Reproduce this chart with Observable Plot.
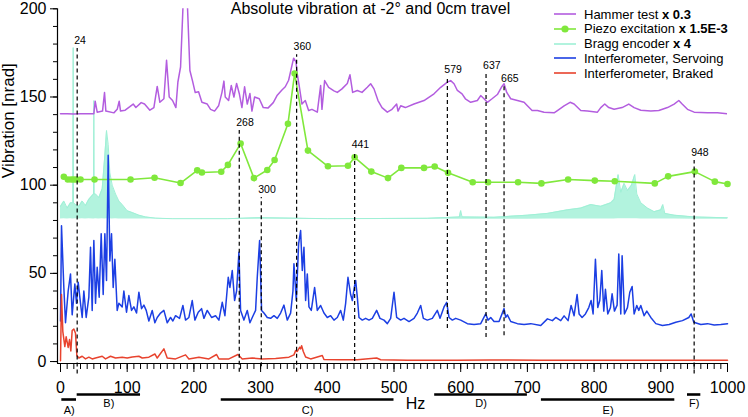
<!DOCTYPE html>
<html><head><meta charset="utf-8">
<script src="https://cdn.jsdelivr.net/npm/d3@7"></script>
<script src="https://cdn.jsdelivr.net/npm/@observablehq/plot@0.6"></script>
<style>
body{margin:0;background:#fff;font-family:"Liberation Sans",Arial,Helvetica,sans-serif;}
#wrap{position:relative;width:748px;height:417px;}
#legend{position:absolute;left:553px;top:6.6px;font-size:13px;color:#000;}
.row{display:flex;align-items:center;height:14.8px;white-space:nowrap;}
.row svg{margin-right:7px;}
</style></head><body>
<div id="wrap"><div id="legend"></div></div>
<script>
// ---------- data ----------
const hammerData = [[0,140.5],[10,140.5],[20,140.3],[30,140.5],[40,140.5],[50,140.5],[52,147.6],[55,141.4],[63,142],[66,152.5],[68,142],[80,141],[85,143],[88,147.6],[90,142],[97,142.5],[104,144.5],[109,146],[113,144],[121,146.8],[126,146],[134,142.5],[140,144],[145,156],[149,147],[155,149],[159,170.8],[163,150],[168,148],[173,144],[176,158.5],[180,167],[183,195],[185,215],[189,215],[191,195],[194,165],[198,159],[202,152.5],[207,153],[212,147],[220,146],[225,143],[231,142],[237,145],[242,152.5],[245,159],[247,150],[252,148],[256,156.5],[260,150],[264,157.7],[268,152],[272,144],[276,155.8],[280,146],[284,152],[287,142],[291,150],[298,149],[304,144],[311,143.7],[319,146.8],[325,151],[332,154],[337,155.8],[342,159.5],[349.5,172],[353,170],[355,163],[358,156],[362,146],[367,148],[372,142.3],[377,143],[385,141.4],[390,156.5],[392,143],[396,159.3],[402,155.5],[410,153.5],[415,152.6],[422,154.6],[430,157.7],[434,162.6],[438,152.6],[445,153.7],[452,152.6],[460,155.5],[465,157.5],[470,154.6],[476,148],[482,144],[490,141.4],[497,143],[504,146],[506,142],[510,145],[517,144],[530,146],[545,148],[560,151.8],[570,155.5],[580,158.4],[585,159.3],[590,157.5],[595,153.7],[602,151.8],[607,149],[615,147],[625,148],[630,150.8],[635,149],[640,147],[647,149],[655,151.4],[661,155.5],[665,157.5],[669,152.6],[675,149],[685,148],[695,147],[700,145],[707,142.3],[715,142.3],[725,141.4],[740,141],[745,142.3],[755,145],[764,147],[770,146],[780,142.3],[790,142],[805,141.4],[810,144],[816,146],[822,144],[830,143],[842,144],[852,146],[860,144],[870,142.5],[885,142],[897,142.3],[910,144],[920,146],[927,148],[932,146],[940,143],[950,141.4],[970,141],[985,141],[1000,140.5]];

const piezoData = [[5,104.8],[11,103.2],[16,103.2],[20,103.2],[24,103.2],[30,103.2],[51,103.2],[105,103.2],[141,104.2],[180,101.2],[205,108.4],[212,107.2],[241,107.6],[251,111.5],[270,123.6],[290,104],[310,108.6],[321,114.3],[341,134.8],[351,163.3],[371,119.6],[401,110.7],[431,111],[441,115.8],[466,107.7],[491,104],[511,109.8],[545,109.8],[561,110.6],[581,107],[618,101.7],[641,101.7],[686,101.7],[721,101],[761,103.2],[801,102.6],[831,102.2],[891,101],[911,105],[951,107.7],[981,102],[1000,100.7]];

// Bragg encoder: dense spectrum given as low / high envelope [freq, low, high]
const braggData = [[0,80.8,88],[5,80.9,91],[10,80.8,87],[15,80.9,90],[18.5,80.8,90],[19,80.8,178],[19.5,80.8,90],[22.5,80.9,89],[27.5,80.8,88],[32.5,80.9,91],[37.5,80.8,88.5],[42.5,80.9,92],[49.5,80.8,95],[50,80.8,148],[50.5,80.8,95],[52.5,80.9,95],[57.5,80.8,93],[62.5,80.9,98],[66.5,80.8,117],[69,80.9,131],[71.5,80.8,123],[74,80.9,107],[77.5,80.8,100],[82.5,80.9,95],[87.5,80.8,91],[92.5,80.8,89],[100,80.8,85.5],[107.5,80.8,84.5],[117.5,80.8,83],[127.5,80.8,82],[142.5,80.8,81.3],[167.5,80.7,81],[250,80.7,81],[300,80.7,81.6],[400,80.7,81],[550,80.7,81.2],[598,80.7,82],[600,80.7,85.6],[602,80.7,82],[650,80.7,81.8],[700,80.7,83],[730,80.8,84],[760,80.8,86],[780,80.8,87],[795,80.8,89],[810,80.8,88],[825,80.8,90],[830,80.8,92],[836,80.9,106],[840,80.9,96],[845,80.9,101],[850,80.9,97],[856,80.9,100],[861,80.9,106],[864,80.9,95],[870,80.8,90],[880,80.8,87],[890,80.8,85],[900,80.8,86],[903,80.8,89],[906,80.8,84],[920,80.8,83],[950,80.7,82],[1000,80.7,81.5]];

const servoData = [[0,23],[1.5,77],[5,42],[7.5,22],[11.5,40],[15,49.7],[17.5,26.5],[21.5,44],[24,33],[26.5,45],[30,33],[32.5,25],[35,40],[38.5,25],[42.5,36.5],[45,64.8],[47.5,29],[50,68.6],[52.5,33],[55,53.5],[58,36.5],[61,72.4],[64,38],[66.5,72.4],[69,46],[71.5,117],[74,57],[76.5,72.4],[79,42],[81.5,58],[85,29],[87.5,33],[92.5,31],[95,40],[99,28],[102.5,37.4],[106.5,29],[110,31],[114,27.5],[117.5,39.3],[121.5,30],[125,32],[128.5,29],[132.5,23],[137.5,29],[141.5,22],[145,25],[150,27.5],[155,29],[160,22],[165,25],[168.5,23],[172.5,26],[178.5,24.5],[183.5,31.8],[187.5,23.5],[192.5,25],[197.5,34.6],[201.5,23.5],[206.5,28],[211.5,30],[215,24.5],[220,29],[226.5,25],[232.5,26],[237.5,23.5],[242.5,33.6],[246.5,26],[251.5,47.8],[254,42],[257.5,51.6],[261,34.6],[264,40],[267.5,62],[270,29],[275,23.5],[280,29],[284,22],[287.5,25],[292.5,29],[295,47.8],[298.5,68.6],[301.5,29],[305,27.5],[310,25],[315,24.5],[320,26],[325,24.5],[330,27.5],[335,32],[340,23.5],[345,27.5],[348.5,40],[350,55.4],[353.5,34.6],[357,66.7],[360,74.3],[362.5,51.6],[365,64.8],[367.5,34.6],[370,49.7],[372.5,31],[376,29],[381,42],[385,29],[390,31.8],[395,27.5],[400,25],[405,26],[410,23.5],[415,25],[420,29],[424,23.5],[427.5,33],[431,47.8],[435,38],[437.5,34.6],[440,41],[442.5,46],[445,36.5],[447.5,25],[452.5,23.5],[457.5,24.5],[462.5,23.5],[467.5,24.5],[474,29],[479,24.5],[485,23.5],[490,21.5],[495,24.5],[500,39.3],[504,25],[510,23.5],[515,24.5],[522.5,22.7],[530,24.5],[535,27.5],[540,31.8],[544,24.5],[550,23.5],[557.5,24.5],[565,29],[569,24.5],[575,31],[579,33.6],[582.5,25],[587.5,23.5],[592.5,24.5],[600,23.5],[610,21.5],[620,21],[630,21.5],[637.5,27],[641,23.5],[645,25],[650,22.7],[657.5,22.7],[665,30],[667.5,25],[670,26.5],[675,22.7],[685,21.5],[695,21],[705,21.5],[720,20.4],[730,24.2],[737.5,23.2],[742.5,25],[750,23.2],[755,25.9],[761,23.2],[765.5,31.8],[770,26],[774.5,38],[777.5,27],[782,25],[787,27],[792,30.6],[795.5,34.6],[798.5,27],[802,58],[805.5,30.6],[808.5,34.6],[811.5,51.6],[814.5,28.6],[817,41],[820.5,27],[824.5,30.6],[827,38.4],[830.5,28.6],[834.5,32],[837,61],[840,27],[842,60],[845.5,27],[850,30.6],[853.5,39.3],[857,42.6],[860,27],[864,31.8],[867,29],[870,31.8],[875,26],[879,28.6],[885,25],[892.5,21.5],[902.5,20.4],[912.5,21],[922.5,22.3],[932.5,23.2],[942,25],[945.5,27],[949.5,22.3],[960,21],[970,21.5],[980,20.7],[990,21],[1000,21.5]];

const brakedData = [[0,0.5],[1.5,38],[3.5,17],[6.5,8.5],[8.5,14],[11.5,8],[13.5,12.5],[15.5,6],[17.5,17.6],[20,18.5],[22.5,16],[24.5,3.4],[27.5,2],[32.5,3],[37.5,1.5],[42.5,2.5],[47.5,1.5],[52.5,2],[62.5,3],[67.5,1.5],[75,3],[82.5,2],[92.5,2.5],[100,2],[107.5,2.6],[117.5,3],[122.5,2],[132.5,2.5],[141.5,4.3],[145,2],[155,7.2],[160,2],[172.5,1.5],[187.5,3.8],[192.5,1.5],[207.5,2.5],[222.5,1.5],[234,4],[237.5,1.5],[252.5,1.5],[266,4],[272.5,1.5],[287.5,2],[302.5,1.5],[322.5,1.8],[342.5,2.5],[350,3.8],[352.5,6.2],[355,5.7],[358.5,8.1],[360,7.2],[361.5,9],[364,5.7],[367.5,2.6],[375,1.5],[392.5,3.4],[395,1.2],[420,1],[445,1],[474,2],[480,1],[520,0.7],[595,0.7],[645,0.9],[720,0.7],[800,0.8],[900,0.8],[1000,0.7]];

// marked resonances: line position, label, line top and bottom (nrad)
const markerPos    = [25, 268, 301, 354, 441, 580, 638, 665, 950];
const markerLabel  = ["24","268","300","360","441","579","637","665","948"];
const markerTop    = [177.5, 131, 93, 174, 118.5, 161, 163, 156, 114];
const markerBottom = [-7, -6, -3, -6, 0, 18.7, 13.6, 14.7, -7];

// frequency ranges under the axis
const rangeStart = [2, 25, 241, 561, 721, 940];
const rangeEnd   = [24, 120, 500, 700, 921, 960];
const rangeLabel = ["A)", "B)", "C)", "D)", "E)", "F)"];

const xTicks = [0,100,200,300,400,500,600,700,800,900,1000];
const yTicks = [0,50,100,150,200];

const seriesNames = ["Hammer test", "Piezo excitation", "Bragg encoder", "Interferometer, Servoing", "Interferometer, Braked"];
const seriesFactor = [" x 0.3", " x 1.5E-3", " x 4", "", ""];
const seriesColor = ["#b35ddf", "#80e83c", "#9ff0d6", "#1c3fe3", "#e8432e"];

// ---------- build ----------
const markers = markerPos.map((x,i)=>({x, label:markerLabel[i], top:markerTop[i], bottom:markerBottom[i]}));
const ranges = rangeStart.map((s,i)=>({s, e:rangeEnd[i], m:(s+rangeEnd[i])/2, label:rangeLabel[i], i}));
const rangesLow = ranges.filter(d=>d.i%2===0), rangesHigh = ranges.filter(d=>d.i%2===1);
const xDomain = [-4.5, 1000], yDomain = [-1.1, 200];
const X = d=>d[0], Y = d=>d[1];

const chart = Plot.plot({
  width: 748, height: 417,
  marginLeft: 57, marginRight: 21, marginTop: 8.3, marginBottom: 54,
  style: {fontFamily: '"Liberation Sans", Arial, Helvetica, sans-serif', fontSize: "16px", background: "white", color: "black", overflow: "visible"},
  x: {domain: xDomain, label: null},
  y: {domain: yDomain, label: null},
  marks: [
    Plot.areaY(braggData, {x: X, y1: d=>d[1], y2: d=>d[2], fill: seriesColor[2], fillOpacity: 0.8, curve: "linear"}),
    Plot.line(braggData, {x: X, y: d=>d[2], stroke: seriesColor[2], strokeWidth: 1}),
    Plot.line(hammerData, {x: X, y: Y, stroke: seriesColor[0], strokeWidth: 1.5, clip: true}),
    Plot.line(piezoData, {x: X, y: Y, stroke: seriesColor[1], strokeWidth: 1.6}),
    Plot.dot(piezoData, {x: X, y: Y, fill: seriesColor[1], r: 3.3}),
    Plot.line(servoData, {x: X, y: Y, stroke: seriesColor[3], strokeWidth: 1.5}),
    Plot.line(brakedData, {x: X, y: Y, stroke: seriesColor[4], strokeWidth: 1.5}),
    Plot.ruleX(markers, {x: "x", y1: "bottom", y2: "top", stroke: "black", strokeWidth: 1.2, strokeDasharray: "4,3"}),
    Plot.text(markers, {x: "x", y: "top", text: "label", textAnchor: "start", dx: -3, dy: -8, fontSize: 10.5, lineAnchor: "middle"}),
    Plot.ruleX([xDomain[0]], {stroke: "black", strokeWidth: 1.2}),
    Plot.ruleY([yDomain[0]], {stroke: "black", strokeWidth: 1.2}),
    Plot.axisX({ticks: d3.range(0, 1001, 10), tickSize: 6, tickFormat: () => "", label: null}),
    Plot.axisX({ticks: xTicks, tickSize: 9, tickPadding: 9, fontSize: 16, tickFormat: d => String(d), label: null}),
    Plot.axisY({ticks: d3.range(0, 201, 10), tickSize: 4, tickFormat: () => "", label: null}),
    Plot.axisY({ticks: yTicks, tickSize: 7, tickPadding: 4, fontSize: 16, tickFormat: d => String(d), label: null}),
    Plot.ruleY(rangesLow, {x1: "s", x2: "e", y: () => yDomain[0], dy: 36, stroke: "black", strokeWidth: 2.6}),
    Plot.ruleY(rangesHigh, {x1: "s", x2: "e", y: () => yDomain[0], dy: 31, stroke: "black", strokeWidth: 2.6}),
    Plot.text(rangesLow, {x: "m", y: () => yDomain[0], text: "label", dy: 47, fontSize: 11}),
    Plot.text(rangesHigh, {x: "m", y: () => yDomain[0], text: "label", dy: 40, fontSize: 11}),
    Plot.text(["Absolute vibration at -2° and 0cm travel"], {frameAnchor: "top", text: d => d, dx: -22, dy: -6.5, lineAnchor: "top", fontSize: 16}),
    Plot.text(["Hz"], {frameAnchor: "bottom", text: d => d, dx: 23, dy: 45, fontSize: 16}),
    Plot.text(["Vibration [nrad]"], {frameAnchor: "left", text: d => d, rotate: -90, dx: -49, dy: -8, fontSize: 17})
  ]
});
const wrap = document.getElementById("wrap");
wrap.insertBefore(chart, wrap.firstChild);

// legend
const legend = document.getElementById("legend");
seriesNames.forEach((name, i) => {
  const row = document.createElement("div");
  row.className = "row";
  const dot = i === 1 ? `<circle cx="12" cy="7" r="3.6" fill="${seriesColor[i]}"/>` : "";
  row.innerHTML = `<svg width="24" height="14"><line x1="1" x2="23" y1="7" y2="7" stroke="${seriesColor[i]}" stroke-width="1.6"/>${dot}</svg><span>${name}${seriesFactor[i] ? `<b>${seriesFactor[i]}</b>` : ""}</span>`;
  legend.appendChild(row);
});
</script>
</body></html>
